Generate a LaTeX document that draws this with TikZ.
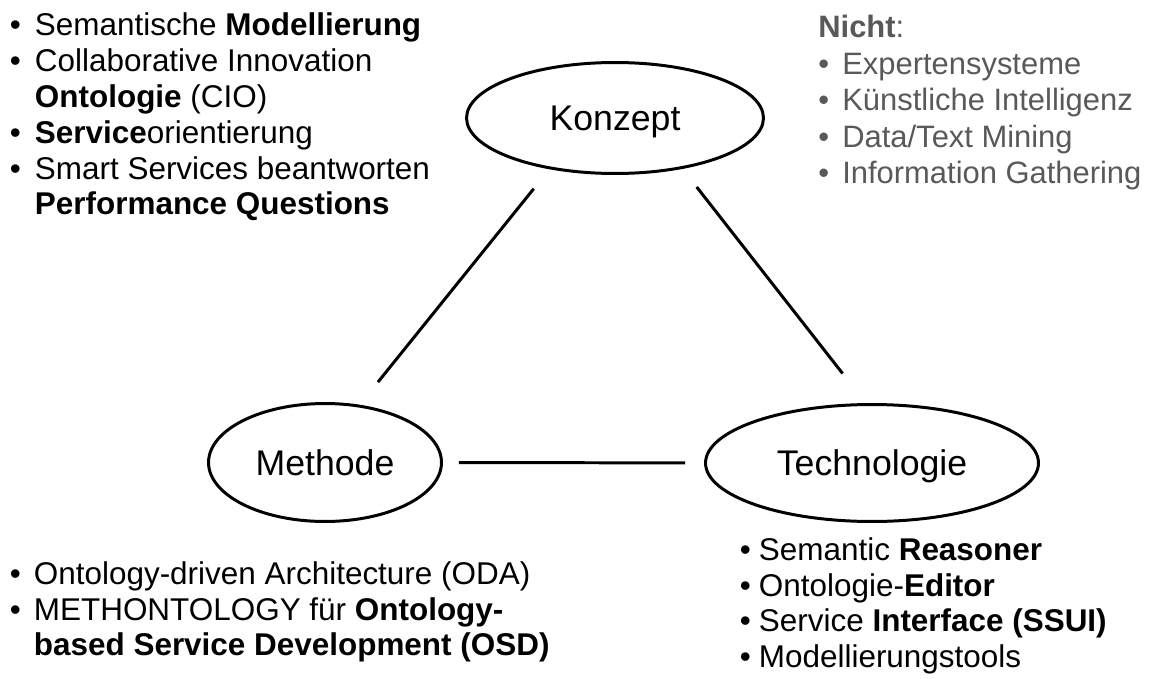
\documentclass[tikz,border=0pt]{standalone}
\usepackage{fontspec}
\setmainfont{Liberation Sans}
\usetikzlibrary{shapes.geometric}
\definecolor{grisnicht}{HTML}{595959}
\newcommand\puce[1][0.5cm]{\makebox[#1][l]{•}}
\newcommand\retrait[1][0.5cm]{\hspace*{#1}}

\begin{document}
\begin{tikzpicture}[x=0.02cm, y=-0.02cm,
    bulle/.style={ellipse, draw, line width=1.7pt, inner sep=0pt, text height=14.5pt, text depth=0pt, font=\fontsize{20.3}{24}\selectfont},
    lien/.style={line width=1.7pt},
    liste/.style={anchor=north west, inner sep=0pt, align=left, font=\fontsize{17.9}{20.4}\selectfont}]
        \useasboundingbox (0,0) rectangle (1152,679);

        % Les trois ellipses du triangle
        \node[bulle, minimum width=5.94cm, minimum height=2.22cm] (K) at (615,118) {Konzept};
        \node[bulle, minimum width=4.66cm, minimum height=2.36cm] (M) at (325,462.5) {Methode};
        \node[bulle, minimum width=6.66cm, minimum height=2.34cm] (T) at (872,463) {Technologie};

        % Côtés du triangle (avec un espace devant les ellipses)
        \draw[lien, shorten <=0.5cm, shorten >=0.58cm] (K.218) -- (M.59);
        \draw[lien, shorten <=0.46cm, shorten >=0.75cm] (K.-37) -- (T.96);
        \draw[lien, shorten <=0.32cm, shorten >=0.38cm] (M) -- (T);

        % Listes autour du triangle
        \node[liste] (modell) at (9.6,10.25) {\rule{0pt}{0.8em}\puce Semantische \textbf{Modellierung}\\
            \puce Collaborative Innovation\\
            \retrait\textbf{Ontologie} (CIO)\\
            \puce\textbf{Service}orientierung\\
            \puce Smart Services beantworten\\
            \retrait\textbf{Performance Questions}};
        \node[liste, text=grisnicht, font=\fontsize{17.6}{20.8}\selectfont] (nicht) at (818,12.7) {\rule{0pt}{0.8em}\textbf{Nicht}:\\
            \puce[0.48cm]Expertensysteme\\
            \puce[0.48cm]Künstliche Intelligenz\\
            \puce[0.48cm]Data/Text Mining\\
            \puce[0.48cm]Information Gathering};
        \node[liste] (oda) at (9.6,558.75) {\rule{0pt}{0.8em}\puce[0.48cm]Ontology-driven Architecture (ODA)\\
            \puce[0.48cm]METHONTOLOGY für \textbf{Ontology-}\\
            \retrait[0.48cm]\textbf{based Service Development (OSD)}};
        \node[liste] (reasoner) at (739.6,534.75) {\rule{0pt}{0.8em}\puce[0.38cm]Semantic \textbf{Reasoner}\\
            \puce[0.38cm]Ontologie-\textbf{Editor}\\
            \puce[0.38cm]Service \textbf{Interface (SSUI)}\\
            \puce[0.38cm]Modellierungstools};

    \end{tikzpicture}
\end{document}
